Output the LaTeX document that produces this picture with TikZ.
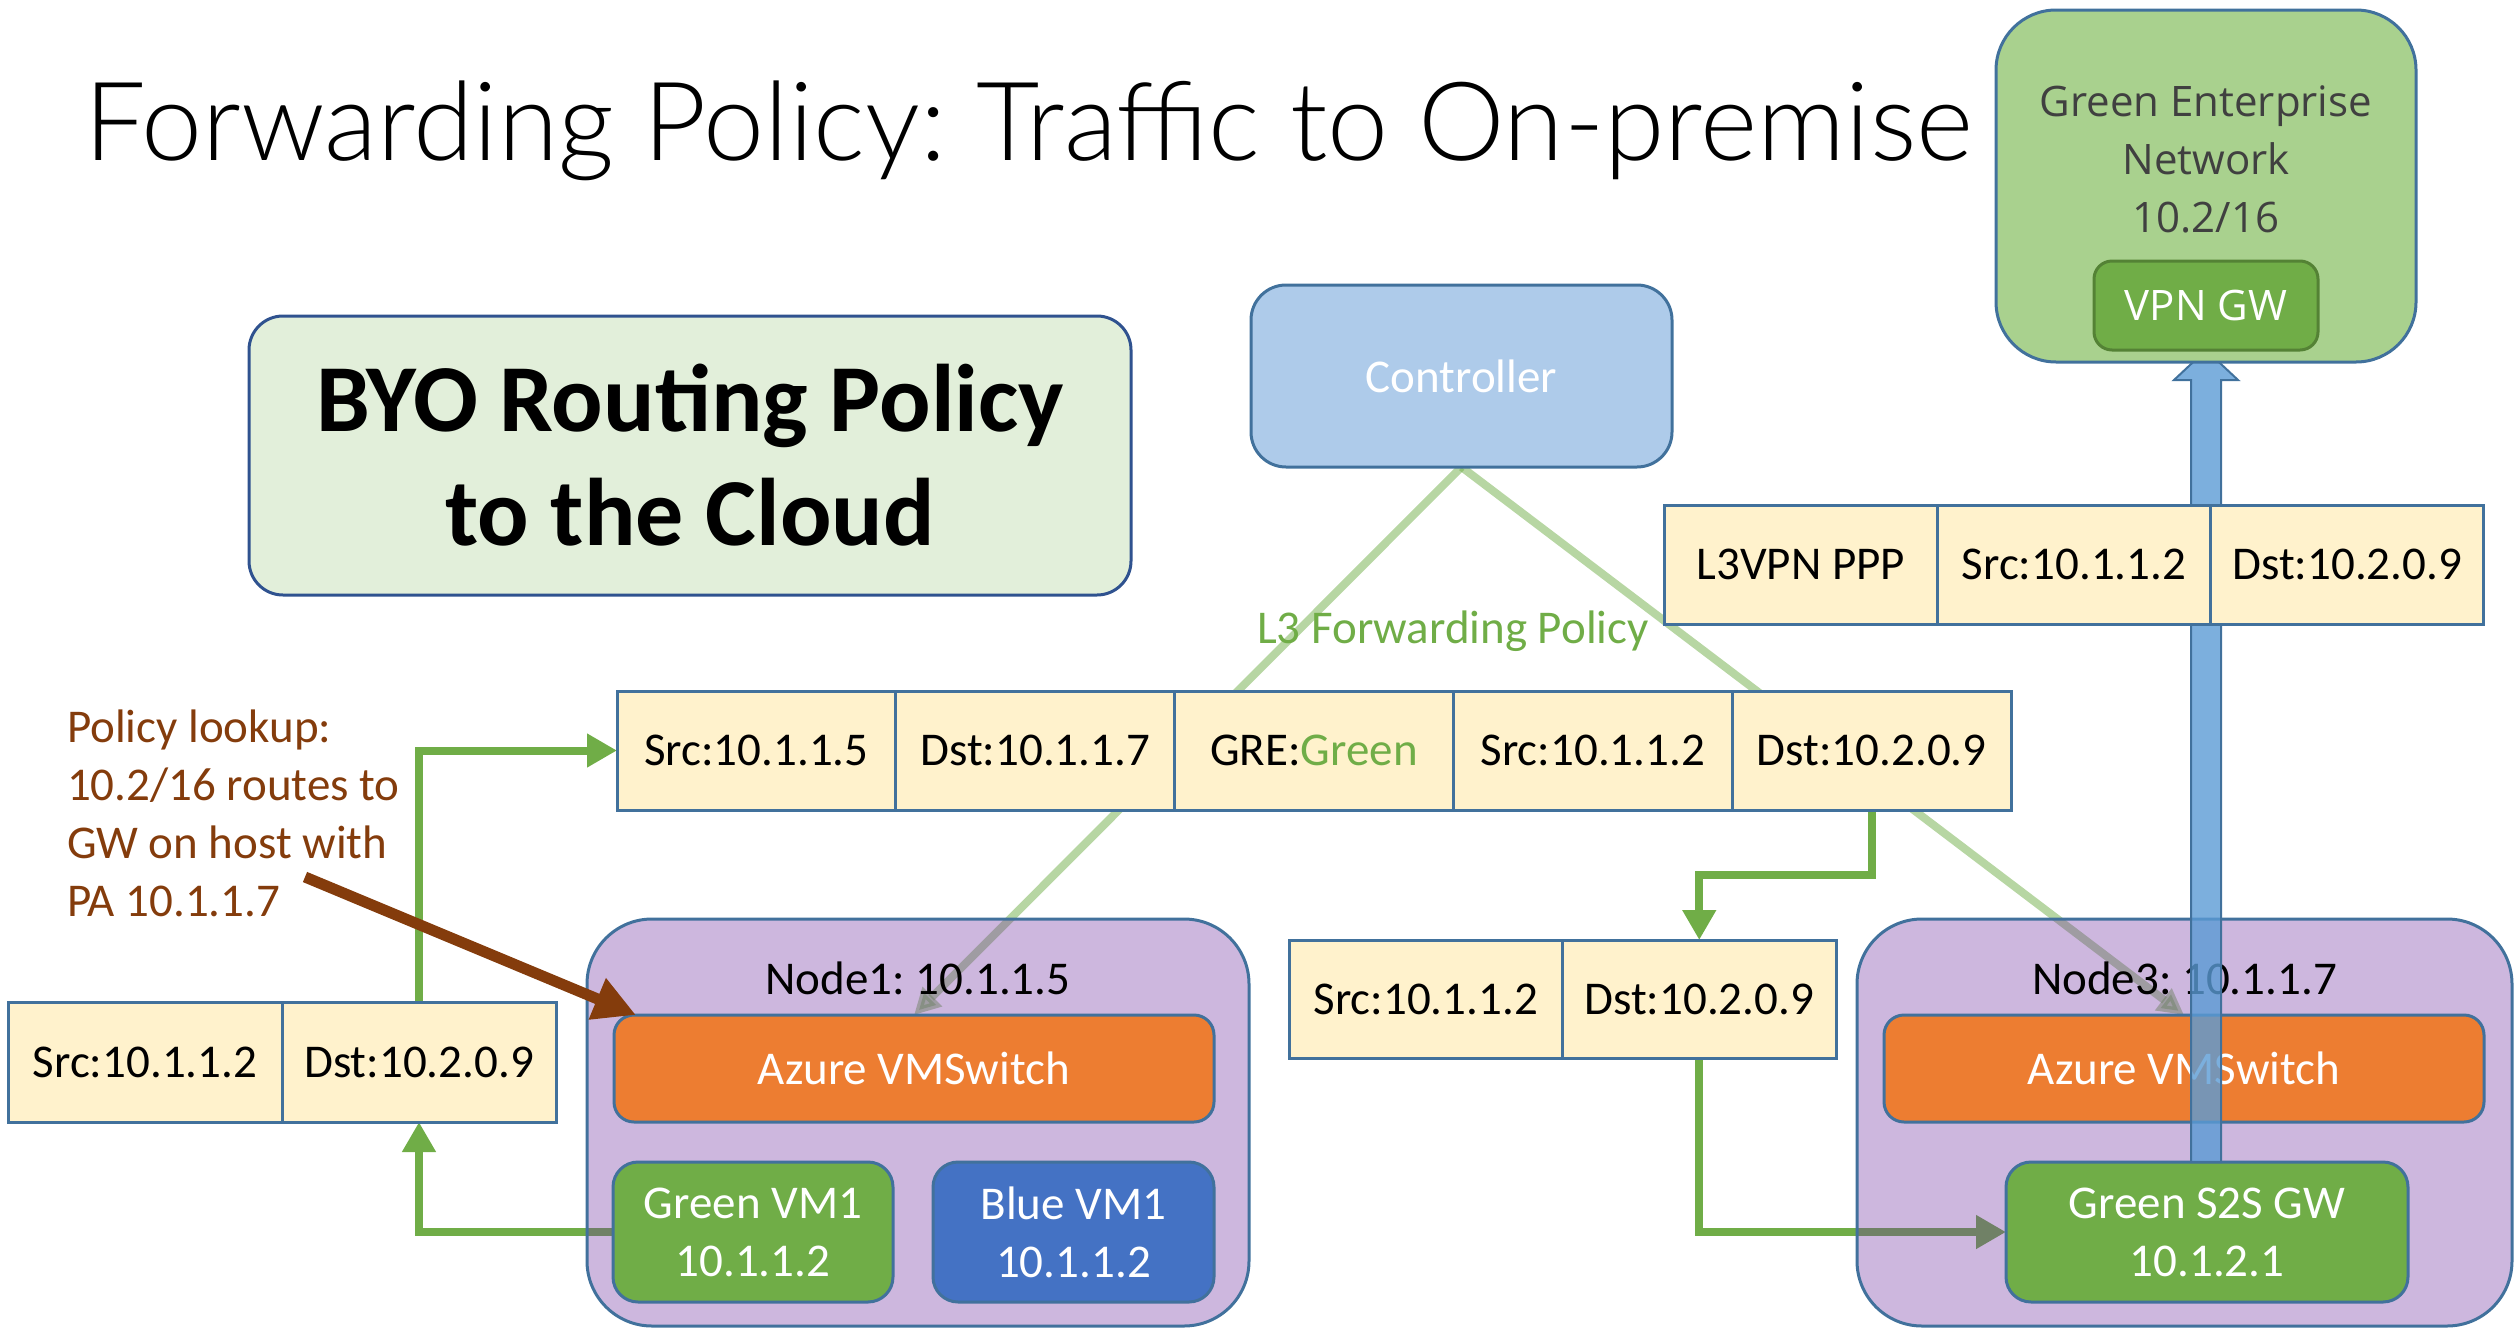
\documentclass[tikz,border=0pt]{standalone}
\usepackage{fontspec}
\setmainfont{Carlito}
\newfontfamily\segoefont{Open Sans}
\newfontfamily\titlefont{Lato}[UprightFont=* Light]
\usetikzlibrary{arrows.meta,calc}
\frenchspacing

\definecolor{edgeblue}{HTML}{41719C}
\definecolor{navyedge}{HTML}{2F528F}
\definecolor{ctrlfill}{HTML}{AECBEA}
\definecolor{byofill}{HTML}{E2EFDA}
\definecolor{entfill}{HTML}{A9D18E}
\definecolor{gwgreen}{HTML}{70AD47}
\definecolor{gwedge}{HTML}{548235}
\definecolor{pktfill}{HTML}{FFF2CC}
\definecolor{hostpurple}{HTML}{7030A0}
\definecolor{switchorange}{HTML}{ED7D31}
\definecolor{vmblue}{HTML}{4472C4}
\definecolor{tunnelblue}{HTML}{5B9BD5}
\definecolor{notebrown}{HTML}{843C0C}
\definecolor{darktext}{HTML}{404040}

\pgfdeclarelayer{bg}
\pgfdeclarelayer{hosts}
\pgfdeclarelayer{tunnel}
\pgfdeclarelayer{top}
\pgfsetlayers{bg,hosts,tunnel,main,top}

\newcommand{\txtsize}{\fontsize{47}{58}\selectfont}

\begin{document}
\begin{tikzpicture}[x=1pt,y=-1pt,
  every node/.style={inner sep=0pt, outer sep=0pt},
  pkt/.style={draw=edgeblue, fill=pktfill, line width=3pt, minimum height=119pt,
    anchor=north west, font=\txtsize},
  rbox/.style={draw=edgeblue, line width=3pt, anchor=north west, align=center,
    font=\txtsize},
  host/.style={rbox, fill=hostpurple, fill opacity=0.35, text opacity=1,
    rounded corners=65pt},
  flowarrow/.style={draw=gwgreen, line width=8pt,
    -{Triangle[length=30pt,width=32pt]}},
  ctrlline/.style={draw=gwgreen, draw opacity=0.5, fill opacity=0.5, line width=8pt,
    -{Triangle[length=26pt,width=26pt]}},
]
\useasboundingbox (0,0) rectangle (2514,1328);

% title
\node[anchor=base west, font=\titlefont\fontsize{109.5}{130}\selectfont] (title) at (84,160)
  {Forwarding Policy: Traffic to On-premise};

% headline box
\node[rbox, draw=navyedge, fill=byofill, rounded corners=34pt,
  minimum width=882pt, minimum height=279pt,
  font=\fontsize{96}{114}\selectfont\bfseries] (byo) at (249,316)
  {BYO Routing Policy\\to the Cloud};

% controller
\node[rbox, fill=ctrlfill, rounded corners=35pt, minimum width=421pt,
  minimum height=182pt, text=white] (ctrl) at (1251,285) {Controller};

% on-premise network
\node[rbox, fill=entfill, rounded corners=60pt, minimum width=420pt,
  minimum height=352pt] (ent) at (1996,10) {};
\node[align=center, text=darktext, font=\segoefont\fontsize{42}{58}\selectfont]
  (enttext) at (2206,159) {Green Enterprise\\Network\\10.2/16};
\node[rbox, draw=gwedge, fill=gwgreen, rounded corners=18pt, minimum width=224pt,
  minimum height=89pt, text=white, font=\segoefont\fontsize{42}{50}\selectfont]
  (vpn) at (2094,261) {VPN GW};

% hosts
\begin{pgfonlayer}{hosts}
\node[host, minimum width=662pt, minimum height=407pt] (n1) at (587,919) {};
\node[anchor=base, font=\txtsize] (n1lbl) at ($(n1.north)+(0,75)$) {Node1: 10.1.1.5};
\node[rbox, fill=switchorange, text=white, rounded corners=20pt,
  minimum width=600pt, minimum height=107pt] (vms1) at (614,1015) {Azure VMSwitch};
\node[rbox, fill=gwgreen, text=white, rounded corners=25pt,
  minimum width=280pt, minimum height=140pt] (gvm1) at (613,1162) {Green VM1\\10.1.1.2};
\node[rbox, fill=vmblue, text=white, rounded corners=25pt,
  minimum width=281pt, minimum height=140pt] (bvm1) at (933,1162) {Blue VM1\\10.1.1.2};

\node[host, minimum width=655pt, minimum height=407pt] (n3) at (1857,919) {};
\node[anchor=base, font=\txtsize] (n3lbl) at ($(n3.north)+(0,75)$) {Node3: 10.1.1.7};
\node[rbox, fill=switchorange, text=white, rounded corners=20pt,
  minimum width=600pt, minimum height=107pt] (vms3) at (1884,1015) {Azure VMSwitch};
\node[rbox, fill=gwgreen, text=white, rounded corners=25pt,
  minimum width=402pt, minimum height=140pt] (s2s) at (2006,1162) {Green S2S GW\\10.1.2.1};
\end{pgfonlayer}

% tunnel to the VPN gateway
\begin{pgfonlayer}{tunnel}
\coordinate (tbot) at (vpn.south |- s2s.north);
\coordinate (ttip) at (vpn.south);
\draw[draw=edgeblue, line width=2pt, fill=tunnelblue, fill opacity=0.8]
  ($(tbot)+(-15,0)$) -- ($(ttip)+(-15,30)$) -- ($(ttip)+(-32,30)$) -- (ttip)
  -- ($(ttip)+(32,30)$) -- ($(ttip)+(15,30)$) -- ($(tbot)+(15,0)$) -- cycle;
\end{pgfonlayer}

% outer packet
\node[pkt, minimum width=273.3pt] (v1) at (1664,505) {L3VPN PPP};
\node[pkt, minimum width=273.3pt] (v2) at (v1.north east) {Src:10.1.1.2};
\node[pkt, minimum width=273.3pt] (v3) at (v2.north east) {Dst:10.2.0.9};

% encapsulated packet
\node[pkt, minimum width=278.8pt] (m1) at (617,691) {Src:10.1.1.5};
\node[pkt, minimum width=278.8pt] (m2) at (m1.north east) {Dst:10.1.1.7};
\node[pkt, minimum width=278.8pt] (m3) at (m2.north east) {GRE:\textcolor{gwgreen}{Green}};
\node[pkt, minimum width=278.8pt] (m4) at (m3.north east) {Src:10.1.1.2};
\node[pkt, minimum width=278.8pt] (m5) at (m4.north east) {Dst:10.2.0.9};

% inner packets
\node[pkt, minimum width=274pt, minimum height=120pt] (l1) at (8,1002) {Src:10.1.1.2};
\node[pkt, minimum width=274pt, minimum height=120pt] (l2) at (l1.north east) {Dst:10.2.0.9};
\node[pkt, minimum width=273.5pt, minimum height=118pt] (d1) at (1289,940) {Src:10.1.1.2};
\node[pkt, minimum width=273.5pt, minimum height=118pt] (d2) at (d1.north east) {Dst:10.2.0.9};

% policy label and note
\node[text=gwgreen, font=\txtsize] (fwd) at (1453,631) {L3 Forwarding Policy};
\node[anchor=west, align=left, text=notebrown, font=\txtsize] (note) at (67,813)
  {Policy lookup:\\10.2/16 routes to\\GW on host with\\PA 10.1.1.7};
\coordinate (noteend) at (305,877);

% connectors
\begin{pgfonlayer}{bg}
\draw[ctrlline] (ctrl.south) -- (vms1.north);
\draw[ctrlline] (ctrl.south) -- (vms3.north);
\draw[flowarrow] (gvm1.west) -| (l2.south);
\draw[flowarrow] (l2.north) |- (m1.west);
\draw[flowarrow] (m5.south) -- ++(0,65) -| (d2.north);
\draw[flowarrow] (d2.south) |- (s2s.west);
\end{pgfonlayer}

\begin{pgfonlayer}{top}
\draw[draw=notebrown, line width=11pt, -{Triangle[length=42pt,width=42pt]}]
  (noteend) -- ($(vms1.north west)+(22,0)$);
\end{pgfonlayer}
\end{tikzpicture}
\end{document}
